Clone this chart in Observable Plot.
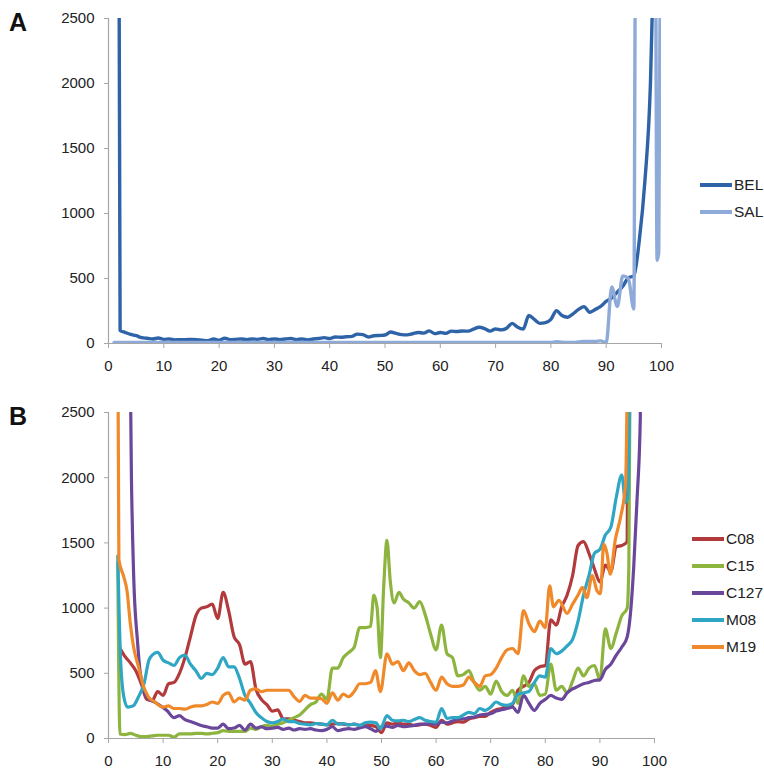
<!DOCTYPE html>
<html>
<head>
<meta charset="utf-8">
<script src="https://cdn.jsdelivr.net/npm/d3@7"></script>
<script src="https://cdn.jsdelivr.net/npm/@observablehq/plot@0.6"></script>
<style>
  body { margin: 0; background: #fff; font-family: "Liberation Sans", Arial, sans-serif; }
  #wrap { position: relative; width: 764px; height: 770px; overflow: hidden; }
  .panel { position: absolute; left: 0; }
  .plabel { position: absolute; font-weight: bold; font-size: 25px; color: #111; }
  .legend { position: absolute; font-size: 15.5px; color: #222; }
  .legend .item { position: absolute; white-space: nowrap; display: flex; align-items: center; }
  .legend .sw { width: 32px; height: 3.5px; margin-right: 2px; }
</style>
</head>
<body>
<div id="wrap"></div>
<script>
// ---------- data ----------
const xTicks = [0, 10, 20, 30, 40, 50, 60, 70, 80, 90, 100];
const yTicks = [0, 500, 1000, 1500, 2000, 2500];

// Panel A
const seriesA = ["BEL", "SAL"];
const colorsA = ["#2f63a8", "#8eaad9"];
const BEL = [[1.9,3000],[2.1,100],[3,85],[4,70],[5,60],[6,45],[7,40],[8,35],[9,42],[10,32],[11,35],[12,28],[13,30],[14,30],[15,32],[16,30],[17,25],[18,22],[19,35],[20,25],[21,40],[22,30],[23,32],[24,35],[25,30],[26,35],[27,32],[28,38],[29,30],[30,35],[31,30],[32,35],[33,38],[34,30],[35,35],[36,28],[37,35],[38,38],[39,45],[40,38],[41,50],[42,48],[43,52],[44,55],[45,72],[46,68],[47,50],[48,60],[49,62],[50,65],[51,88],[52,78],[53,68],[54,66],[55,75],[56,85],[57,80],[58,97],[59,76],[60,85],[61,78],[62,95],[63,92],[64,96],[65,95],[66,110],[67,125],[68,115],[69,95],[70,112],[71,105],[72,118],[73,155],[74,125],[75,112],[76,215],[77,185],[78,155],[79,160],[80,185],[81,253],[82,215],[83,202],[84,228],[85,262],[86,284],[87,240],[88,262],[89,285],[90,325],[91,350],[92,395],[93,440],[94,505],[95,520],[96,800],[97,1250],[98,2000],[98.6,3000]];
const SAL = [[1,8],[10,8],[20,8],[30,8],[40,8],[50,8],[60,8],[70,8],[80,8],[81,14],[82,10],[83,8],[84,8],[85,12],[86,16],[87,16],[88,16],[89,20],[90,6],[91,435],[92,285],[93,520],[94,500],[95,265],[95.3,3000],[98.9,3000],[99.2,640],[99.5,700],[99.8,3000]];

// Panel B
const seriesB = ["C08", "C15", "C127", "M08", "M19"];
const colorsB = ["#b23a3c", "#8db43e", "#6a479b", "#2ea6c4", "#f0892a"];
const C08 = [[2,700],[3,630],[4,580],[5,520],[6,420],[7,300],[8,290],[9,360],[10,330],[11,420],[12,430],[13,500],[14,620],[15,780],[16,940],[17,1000],[18,1010],[19,1030],[20,920],[21,1120],[22,980],[23,780],[24,720],[25,570],[26,590],[27,380],[28,300],[29,260],[30,210],[31,220],[32,150],[33,150],[34,140],[35,130],[36,120],[37,120],[38,115],[39,110],[40,105],[41,110],[42,115],[43,110],[44,105],[45,110],[46,100],[47,105],[48,100],[49,90],[50,45],[51,120],[52,110],[53,120],[54,110],[55,110],[56,100],[57,105],[58,110],[59,100],[60,85],[61,140],[62,110],[63,120],[64,130],[65,125],[66,150],[67,160],[68,170],[69,170],[70,200],[71,220],[72,230],[73,250],[74,260],[75,370],[76,400],[77,430],[78,520],[79,550],[80,560],[81,910],[82,870],[83,1010],[84,1100],[85,1250],[86,1480],[87,1510],[88,1420],[89,1300],[90,1200],[91,1330],[92,1280],[93,1470],[94,1480],[95,1510],[95.3,4000]];
const C15 = [[1.7,1350],[2.1,35],[3,30],[4,40],[5,25],[6,15],[7,15],[8,20],[9,25],[10,25],[11,25],[12,10],[13,35],[14,35],[15,35],[16,40],[17,40],[18,35],[19,40],[20,45],[21,60],[22,55],[23,55],[24,55],[25,55],[26,80],[27,70],[28,90],[29,100],[30,95],[31,110],[32,120],[33,140],[34,160],[35,180],[36,220],[37,260],[38,280],[39,340],[40,300],[41,540],[42,540],[43,620],[44,660],[45,700],[46,850],[47,850],[48,860],[48.6,1100],[49.2,1000],[49.8,620],[50.4,1160],[51,1520],[51.6,1210],[52.3,1040],[53.2,1120],[54,1070],[55,1040],[56,1000],[57,1050],[58,950],[59,800],[60,680],[61,870],[62,650],[63,620],[64,480],[65,490],[66,520],[67,430],[68,370],[69,400],[70,340],[71,440],[72,360],[73,330],[74,370],[75,270],[76,480],[77,400],[78,420],[79,330],[80,340],[81,570],[82,370],[83,400],[84,350],[85,440],[86,540],[87,480],[88,540],[89,560],[90,450],[91,840],[92,690],[93,810],[94,940],[95,1000],[95.3,1320],[95.7,4000]];
const C127 = [[3.7,4000],[4.2,2000],[4.6,1260],[5.3,750],[5.8,510],[7,320],[8.8,270],[10.7,215],[12,160],[13,175],[14,145],[15,130],[16,115],[17,100],[18,90],[19,80],[20,80],[21,110],[22,75],[23,80],[24,100],[25,65],[26,110],[27,80],[28,90],[29,75],[30,80],[31,85],[32,70],[33,80],[34,65],[35,75],[36,70],[37,75],[38,65],[39,60],[40,70],[41,90],[42,60],[43,70],[44,75],[45,70],[46,80],[47,90],[48,75],[49,55],[50,90],[51,95],[52,85],[53,100],[54,90],[55,95],[56,100],[57,110],[58,110],[59,115],[60,110],[61,125],[62,120],[63,135],[64,150],[65,150],[66,160],[67,165],[68,180],[69,185],[70,190],[71,210],[72,220],[73,230],[74,240],[75,200],[76,330],[77,270],[78,215],[79,270],[80,300],[81,330],[82,310],[83,300],[84,350],[85,380],[86,400],[87,420],[88,430],[89,445],[90,450],[91,530],[92,570],[93,640],[94,700],[95,780],[95.6,960],[96.2,1320],[96.8,1830],[97.4,2460],[97.6,4000]];
const M08 = [[1.7,1400],[2.2,620],[2.8,320],[3.5,240],[4.5,250],[5.5,320],[6.5,420],[7.4,600],[8,640],[9,660],[10,600],[11,580],[12,560],[13,620],[14,640],[15,570],[16,520],[17,460],[18,500],[19,490],[20,540],[21,620],[22,550],[23,550],[24,460],[25,330],[26,270],[27,200],[28,160],[29,130],[30,120],[31,130],[32,150],[33,130],[34,130],[35,115],[36,110],[37,105],[38,115],[39,110],[40,105],[41,140],[42,110],[43,115],[44,105],[45,110],[46,100],[47,120],[48,125],[49,120],[49.8,75],[51,175],[52,140],[53,135],[54,140],[55,130],[56,145],[57,160],[58,140],[59,130],[60,125],[61,230],[62,155],[63,160],[64,160],[65,180],[66,200],[67,190],[68,230],[69,215],[70,240],[71,280],[72,260],[73,255],[74,270],[75,340],[76,350],[77,360],[78,430],[79,480],[80,470],[81,690],[82,650],[83,670],[84,710],[85,760],[86,900],[87,1100],[88,1250],[89,1420],[90,1450],[91,1560],[92,1620],[93,1850],[94,2020],[94.7,1810],[95.1,1850],[95.8,4000]];
const M19 = [[1.6,4000],[1.9,1370],[2.8,1240],[3.4,1130],[4,880],[4.6,700],[5.5,550],[6.4,400],[7.3,320],[8.5,280],[10,240],[11,250],[12,230],[13,230],[14,225],[15,240],[16,250],[17,250],[18,260],[19,280],[20,270],[21,330],[22,350],[23,280],[24,310],[25,295],[26,370],[27,380],[28,360],[29,370],[30,370],[31,370],[32,370],[33,370],[34,320],[35,285],[36,330],[37,310],[38,310],[39,305],[40,270],[41,350],[42,295],[43,340],[44,320],[45,360],[46,420],[47,420],[48,430],[48.9,520],[49.8,360],[51,650],[52,570],[53,590],[54,520],[55,580],[56,520],[57,490],[58,500],[59,430],[60,370],[61,470],[62,420],[63,400],[64,400],[65,410],[66,470],[67,430],[68,400],[69,480],[70,490],[71,540],[72,620],[73,680],[74,690],[75,650],[76,980],[77,880],[78,820],[79,900],[80,850],[80.8,1170],[81.5,1010],[82.5,1060],[84,960],[85,1030],[86,1100],[86.8,1160],[87.6,1080],[88.6,1250],[89.5,1130],[90.1,1110],[90.7,1490],[91.3,1420],[91.9,1260],[92.8,1520],[93.8,1700],[94.7,1950],[95.3,4000]];

// ---------- build ----------
const rowsA = [["BEL", BEL], ["SAL", SAL]].flatMap(([s, arr]) => arr.map(([x, y]) => ({series: s, x, y})));
const rowsB = [["C08", C08], ["C15", C15], ["C127", C127], ["M08", M08], ["M19", M19]].flatMap(([s, arr]) => arr.map(([x, y]) => ({series: s, x, y})));

const axisGray = "#a6a6a6";
function panel(rows, series, colors, opts) {
  return Plot.plot({
    width: opts.width, height: opts.height,
    marginLeft: opts.ml, marginRight: opts.mr, marginTop: opts.mt, marginBottom: opts.mb,
    style: {fontFamily: "'Liberation Sans', Arial, sans-serif", fontSize: "15px", background: "transparent"},
    x: {domain: [0, 100]},
    y: {domain: [0, 2500]},
    color: {domain: series, range: colors},
    marks: [
      Plot.ruleX([0], {stroke: axisGray, strokeWidth: 1.2}),
      Plot.axisX(xTicks, {tickSize: 5, tickPadding: 12, stroke: axisGray, fill: "#222", fontSize: 15, label: null, tickFormat: d => String(d)}),
      Plot.axisY(yTicks, {tickSize: 4, tickPadding: 10, stroke: axisGray, fill: "#222", fontSize: 15, label: null, tickFormat: d => String(d)}),
      Plot.line(rows, {x: "x", y: "y", z: "series", stroke: "series", strokeWidth: opts.sw, curve: "monotone-x", clip: true, strokeLinejoin: "round"}),
      Plot.ruleY([0], {stroke: axisGray, strokeWidth: 1.2}),
    ]
  });
}

const wrap = document.getElementById("wrap");
const svgA = panel(rowsA, seriesA, colorsA, {width: 680, height: 385, ml: 108, mr: 19, mt: 18, mb: 42, sw: 3.4});
svgA.classList.add("panel"); svgA.style.top = "0px";
wrap.appendChild(svgA);
const svgB = panel(rowsB, seriesB, colorsB, {width: 680, height: 380, ml: 108, mr: 26, mt: 22, mb: 32, sw: 3.2});
svgB.classList.add("panel"); svgB.style.top = "390px";
wrap.appendChild(svgB);

function label(t, x, y) {
  const d = document.createElement("div");
  d.className = "plabel"; d.textContent = t;
  d.style.left = x + "px"; d.style.top = y + "px";
  wrap.appendChild(d);
}
label("A", 9, 8);
label("B", 9, 402);

function legend(series, colors, x, y0, step) {
  const lg = document.createElement("div");
  lg.className = "legend";
  lg.style.left = x + "px"; lg.style.top = "0px";
  series.forEach((s, i) => {
    const it = document.createElement("div");
    it.className = "item";
    it.style.top = (y0 + i * step - 9) + "px";
    it.style.left = "0px";
    it.style.height = "18px";
    const sw = document.createElement("span");
    sw.className = "sw"; sw.style.background = colors[i];
    const tx = document.createElement("span");
    tx.textContent = s;
    it.appendChild(sw); it.appendChild(tx);
    lg.appendChild(it);
  });
  wrap.appendChild(lg);
}
legend(seriesA, colorsA, 700, 185, 27);
legend(seriesB, colorsB, 692, 539, 27);
</script>
</body>
</html>
